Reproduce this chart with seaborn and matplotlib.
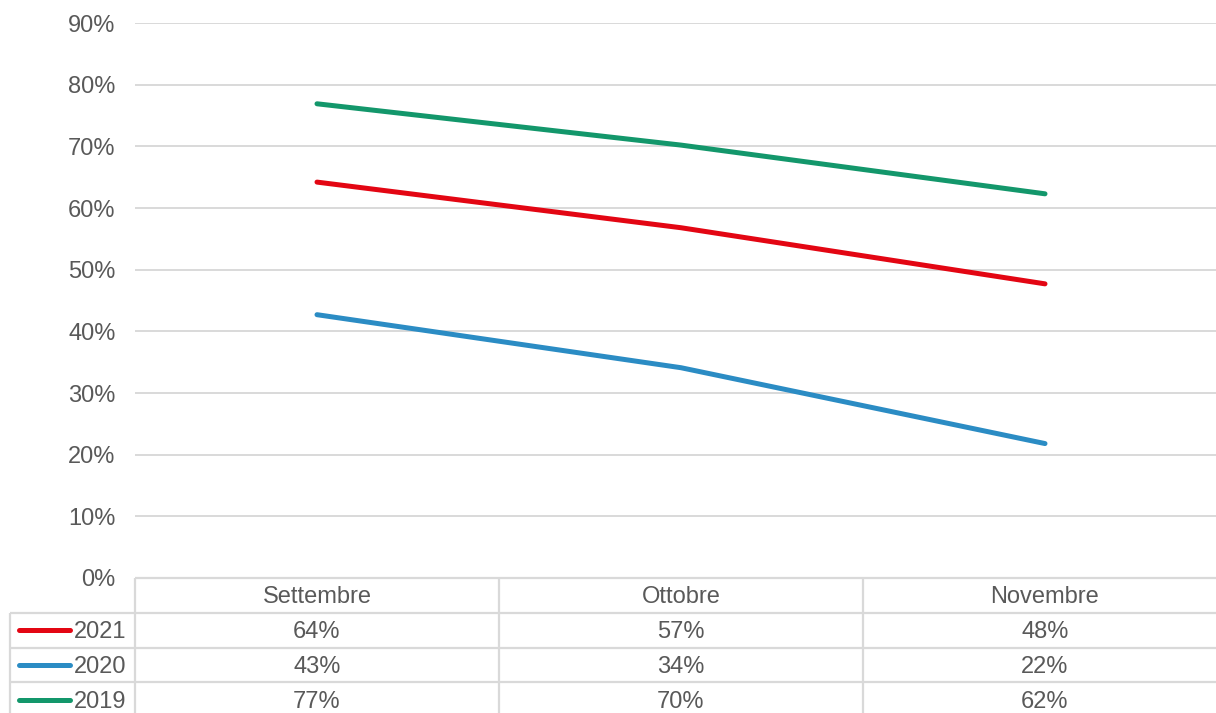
import numpy as np
import pandas as pd
import matplotlib
matplotlib.use("Agg")
import matplotlib.pyplot as plt
import seaborn as sns

# Dati
mesi = ["Settembre", "Ottobre", "Novembre"]
anni = ["2021", "2020", "2019"]
v2021 = [0.642, 0.568, 0.477]
v2020 = [0.427, 0.341, 0.218]
v2019 = [0.769, 0.702, 0.623]
colori = ["#e30613", "#2b8cc4", "#13976b"]

serie = {"2021": v2021, "2020": v2020, "2019": v2019}
df = pd.DataFrame([
    {"mese": m, "anno": a, "valore": v}
    for a in anni for m, v in zip(mesi, serie[a])
])

sns.set_theme(style="white")
plt.rcParams["font.family"] = ["Liberation Sans", "DejaVu Sans"]
testo = "#595959"
griglia = "#d9d9d9"
fs = 17

W, H = 1216, 713
fig = plt.figure(figsize=(W / 100, H / 100), dpi=100)

# area del grafico
ax = fig.add_axes([135 / W, 135 / H, 1092 / W, 555 / H])
sns.lineplot(data=df, x="mese", y="valore", hue="anno", hue_order=anni,
             palette=dict(zip(anni, colori)), sort=False, legend=False,
             linewidth=3.6, solid_capstyle="round", ax=ax)
ax.set_xlim(-0.5, 2.5)
ax.set_ylim(0, 0.9)
ticks = np.arange(0, 0.91, 0.1)
ax.set_yticks(ticks)
ax.set_yticklabels([f"{int(round(t * 100))}%" for t in ticks], color=testo, fontsize=fs)
ax.set_xticks([])
ax.set_xlabel("")
ax.set_ylabel("")
ax.tick_params(axis="y", length=0, pad=14)
ax.grid(axis="y", color=griglia, linewidth=1.4)
ax.set_axisbelow(True)
for s in ax.spines.values():
    s.set_visible(False)

# tabella dati sotto il grafico
tax = fig.add_axes([10 / W, -4 / H, 1217 / W, 139 / H])
x0 = -0.5 - 125 / 364
tax.set_xlim(x0, 2.5)
tax.set_ylim(4, 0)
tax.axis("off")
lk = dict(color=griglia, linewidth=1.6, clip_on=False)
tax.hlines(0, -0.5, 2.5, **lk)
tax.hlines([1, 2, 3], x0, 2.5, **lk)
tax.vlines([-0.5, 0.5, 1.5], 0, 4, **lk)
tax.vlines(x0, 1, 4, **lk)

dy = 0.06  # piccolo spostamento verso il basso del testo
for i, m in enumerate(mesi):
    tax.text(i, 0.5 + dy, m, ha="center", va="center", color=testo, fontsize=fs)

for r, (a, c) in enumerate(zip(anni, colori)):
    y = r + 1.5
    tax.plot([x0 + 9 / 364, x0 + 60 / 364], [y, y], color=c, linewidth=3.6,
             solid_capstyle="round", clip_on=False)
    tax.text(x0 + 64 / 364, y + dy, a, ha="left", va="center", color=testo, fontsize=fs)
    for i, v in enumerate(serie[a]):
        tax.text(i, y + dy, f"{v:.0%}", ha="center", va="center", color=testo, fontsize=fs)

fig.savefig("out.png", dpi=100)
